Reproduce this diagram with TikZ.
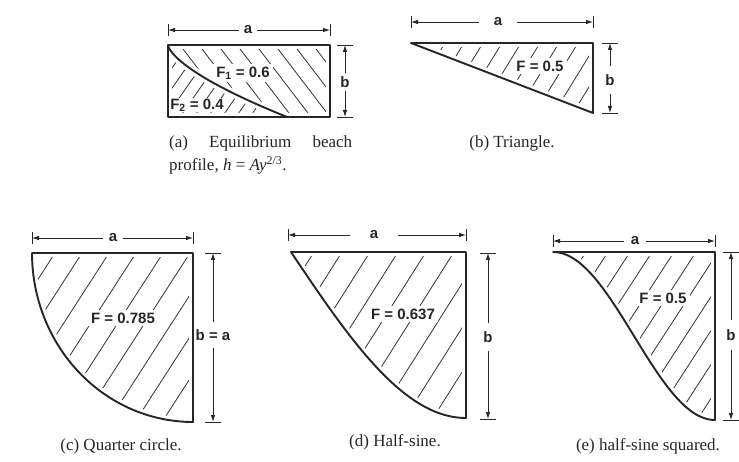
\documentclass[tikz,border=0pt]{standalone}
\usepackage{fontspec}
\setmainfont{Liberation Serif}
\setsansfont{Liberation Sans}
\usetikzlibrary{arrows.meta}
\begin{document}
\begin{tikzpicture}[x=1pt,y=-1pt,
  outline/.style={line width=1.9pt, line join=round, draw=black!85},
  whiteout/.style={draw=white, line width=8pt, line join=round},
  hatch/.style={line width=0.8pt, draw=black!80},
  dimline/.style={line width=0.8pt, draw=black!85, -{Latex[length=7pt,width=4.5pt]}},
  dimtick/.style={line width=0.8pt, draw=black!85},
  dimlbl/.style={font=\sffamily\bfseries\fontsize{15}{15}\selectfont, text=black!85, inner sep=0pt},
  flbl/.style={font=\sffamily\bfseries\fontsize{15}{15}\selectfont, text=black!85, fill=white, inner sep=3pt},
  captxt/.style={font=\fontsize{17}{23}\selectfont, text=black!85, inner sep=0pt}]
\useasboundingbox[fill=white] (0,0) rectangle (739,462);

% ---------- (a) equilibrium beach profile ----------
\def\pAone{(168,45) -- (330,45) -- (330,117) -- (287,117) -- plot[domain=1:0,samples=40,variable=\t] ({168+119*\t^3},{45+72*\t^2}) -- cycle}
\def\pAtwo{(168,45) -- plot[domain=0:1,samples=40,variable=\t] ({168+119*\t^3},{45+72*\t^2}) -- (168,117) -- cycle}
\begin{scope}
  \clip \pAone;
  \foreach \p in {104,123,...,340} \draw[hatch] (\p,45) -- ++(55,72);
\end{scope}
\begin{scope}
  \clip \pAtwo;
  \foreach \p in {110,124,...,300} \draw[hatch] (\p,117) -- ++(50,-72);
\end{scope}
\draw[whiteout] \pAone;
\draw[whiteout] \pAtwo;
\node[flbl] (fA1) at (243,73) {F\textsubscript{1} = 0.6};
\node[flbl, inner sep=1pt] (fA2) at (197,105) {F\textsubscript{2} = 0.4};
\draw[outline] (168,45) rectangle (330,117);
\draw[outline] plot[domain=0:1,samples=40,variable=\t] ({168+119*\t^3},{45+72*\t^2});
% dimension a
\coordinate (aAL) at (168,30); \coordinate (aAR) at (330,30);
\node[dimlbl, minimum width=17pt] (aA) at (248,30) {a};
\draw[dimline] (aA) -- (aAL); \draw[dimline] (aA) -- (aAR);
\draw[dimtick] (aAL) ++(0,-6) -- ++(0,12);
\draw[dimtick] (aAR) ++(0,-6) -- ++(0,12);
% dimension b
\coordinate (bAT) at (345,45); \coordinate (bAB) at (345,117);
\node[dimlbl, minimum height=17pt] (bA) at (345,82) {b};
\draw[dimline] (bA) -- (bAT); \draw[dimline] (bA) -- (bAB);
\draw[dimtick] (bAT) ++(-8,0) -- ++(16,0);
\draw[dimtick] (bAB) ++(-8,0) -- ++(16,0);
\node[captxt, text width=183pt, align=justify, anchor=north west] (capA) at (169,136)
  {(a) Equilibrium beach\linebreak profile, \textit{h} = \textit{Ay}\textsuperscript{2/3}.};

% ---------- (b) triangle ----------
\def\pB{(411,43) -- (593,43) -- (593,113) -- cycle}
\begin{scope}
  \clip \pB;
  \foreach \p in {364,383,...,600} \draw[hatch] (\p,113) -- ++(43,-70);
\end{scope}
\draw[whiteout] \pB;
\node[flbl] (fB) at (540,66) {F = 0.5};
\draw[outline] \pB;
\coordinate (aBL) at (411,22); \coordinate (aBR) at (593,22);
\node[dimlbl, minimum width=38pt] (aB) at (498,22) {a};
\draw[dimline] (aB) -- (aBL); \draw[dimline] (aB) -- (aBR);
\draw[dimtick] (aBL) ++(0,-6) -- ++(0,12);
\draw[dimtick] (aBR) ++(0,-6) -- ++(0,12);
\coordinate (bBT) at (610,43); \coordinate (bBB) at (610,113);
\node[dimlbl, minimum height=28pt] (bB) at (610,80) {b};
\draw[dimline] (bB) -- (bBT); \draw[dimline] (bB) -- (bBB);
\draw[dimtick] (bBT) ++(-8,0) -- ++(16,0);
\draw[dimtick] (bBB) ++(-8,0) -- ++(16,0);
\node[captxt] (capB) at (512,143) {(b) Triangle.};

% ---------- (c) quarter circle ----------
\def\pC{(32,253) -- (193,253) -- (193,422) -- plot[domain=90:180,samples=60,variable=\t] ({193+161*cos(\t)},{253+169*sin(\t)}) -- cycle}
\begin{scope}
  \clip \pC;
  \foreach \p in {55,82,...,320} \draw[hatch] (\p,253) -- ++(-109,169);
\end{scope}
\draw[whiteout] \pC;
\node[flbl] (fC) at (123,318) {F = 0.785};
\draw[outline] \pC;
\coordinate (aCL) at (32,238); \coordinate (aCR) at (193,238);
\node[dimlbl, minimum width=20pt] (aC) at (113,238) {a};
\draw[dimline] (aC) -- (aCL); \draw[dimline] (aC) -- (aCR);
\draw[dimtick] (aCL) ++(0,-6) -- ++(0,12);
\draw[dimtick] (aCR) ++(0,-6) -- ++(0,12);
\coordinate (bCT) at (213,253); \coordinate (bCB) at (213,422);
\node[dimlbl, minimum height=25pt, fill=white] (bC) at (213,335) {b = a};
\draw[dimline] (bC) -- (bCT); \draw[dimline] (bC) -- (bCB);
\draw[dimtick] (bCT) ++(-8,0) -- ++(16,0);
\draw[dimtick] (bCB) ++(-8,0) -- ++(16,0);
\node[captxt] (capC) at (121,446) {(c) Quarter circle.};

% ---------- (d) half-sine ----------
\def\pD{(291,252) -- (466,252) -- (466,418) -- plot[domain=1:0,samples=60,variable=\t] ({291+175*\t},{252+166*sin(90*\t)}) -- cycle}
\begin{scope}
  \clip \pD;
  \foreach \p in {286,314,...,590} \draw[hatch] (\p,252) -- ++(-105,166);
\end{scope}
\draw[whiteout] \pD;
\node[flbl] (fD) at (403,314) {F = 0.637};
\draw[outline] \pD;
\coordinate (aDL) at (288,235); \coordinate (aDR) at (466,235);
\node[dimlbl, minimum width=47pt] (aD) at (374,235) {a};
\draw[dimline] (aD) -- (aDL); \draw[dimline] (aD) -- (aDR);
\draw[dimtick] (aDL) ++(0,-6) -- ++(0,12);
\draw[dimtick] (aDR) ++(0,-6) -- ++(0,12);
\coordinate (bDT) at (488,253); \coordinate (bDB) at (488,419);
\node[dimlbl, minimum height=27pt] (bD) at (488,337) {b};
\draw[dimline] (bD) -- (bDT); \draw[dimline] (bD) -- (bDB);
\draw[dimtick] (bDT) ++(-8,0) -- ++(16,0);
\draw[dimtick] (bDB) ++(-8,0) -- ++(16,0);
\node[captxt] (capD) at (395,442) {(d) Half-sine.};

% ---------- (e) half-sine squared ----------
\def\pE{(553,252) -- (715,252) -- (715,420) -- plot[domain=1:0,samples=60,variable=\t] ({553+162*\t},{252+168*sin(90*\t)^2}) -- cycle}
\begin{scope}
  \clip \pE;
  \foreach \p in {564,586,...,840} \draw[hatch] (\p,252) -- ++(-109,168);
\end{scope}
\draw[whiteout] \pE;
\node[flbl] (fE) at (663,298) {F = 0.5};
\draw[outline] \pE;
\coordinate (aEL) at (553,241); \coordinate (aER) at (715,241);
\node[dimlbl, minimum width=22pt] (aE) at (635,241) {a};
\draw[dimline] (aE) -- (aEL); \draw[dimline] (aE) -- (aER);
\draw[dimtick] (aEL) ++(0,-6) -- ++(0,12);
\draw[dimtick] (aER) ++(0,-6) -- ++(0,12);
\coordinate (bET) at (731,252); \coordinate (bEB) at (731,420);
\node[dimlbl, minimum height=30pt] (bE) at (731,335) {b};
\draw[dimline] (bE) -- (bET); \draw[dimline] (bE) -- (bEB);
\draw[dimtick] (bET) ++(-8,0) -- ++(16,0);
\draw[dimtick] (bEB) ++(-8,0) -- ++(16,0);
\node[captxt] (capE) at (648,446) {(e) half-sine squared.};
\end{tikzpicture}
\end{document}
